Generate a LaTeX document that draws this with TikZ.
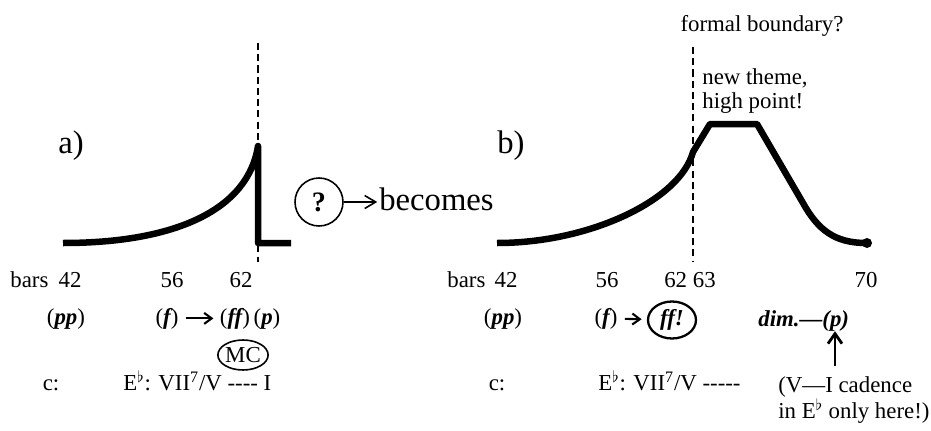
\documentclass[tikz,border=0pt]{standalone}
\usepackage{fontspec}
\setmainfont{Liberation Serif}
\usetikzlibrary{arrows.meta, positioning, shapes.geometric}

\newcommand{\sm}{\fontsize{13}{13.7}\selectfont}
\newcommand{\bg}{\fontsize{18.6}{20}\selectfont}
\newcommand{\dyn}[1]{\textbf{\textit{#1}}}
\newcommand{\eflat}{E\textsuperscript{$\flat$}}

\begin{document}
\begin{tikzpicture}[
    x=0.02cm, y=-0.02cm,
    every node/.style={font=\sm, inner sep=0pt},
    lbl/.style={anchor=base},
    lblw/.style={anchor=base west},
    tag/.style={font=\bg, anchor=base west},
    curve/.style={line width=3.7pt, line join=round},
    bound/.style={line width=1.4pt, dash pattern=on 4pt off 2.4pt},
    ring/.style={draw, ellipse, line width=0.9pt},
    arr/.style={-{Straight Barb[length=2.2mm, width=2.6mm]}, line width=0.9pt},
    dynarr/.style={-{Straight Barb[length=1.5mm, width=2.2mm]}, line width=1.2pt},
    uparr/.style={-{Straight Barb[length=2mm, width=2.8mm]}, line width=1.6pt}
  ]
  \useasboundingbox (0,0) rectangle (931,430);

  % panel a
  \node[tag] (taga) at (58,153) {a)};
  \draw[curve] (63,243) .. controls (175,243) and (248,210) .. (258,146) -- (258,243) -- (291,243);
  \draw[bound] (258,43) -- (258,262);

  \node[lblw] (barsa) at (10,287) {bars};
  \node[lbl] (b42a) at (70,287) {42};
  \node[lbl] (b56a) at (172,287) {56};
  \node[lbl] (b62a) at (241,287) {62};

  \node[lbl] (ppa) at (66,324) {(\dyn{pp})};
  \node[lbl] (fa) at (167,324) {(\dyn{f}\kern-1pt)};
  \node[lbl] (ffa) at (235,324) {(\dyn{ff}\kern-1pt)};
  \node[lbl] (pa) at (267,324) {(\dyn{p})};

  \node[ring, minimum width=0.9cm, minimum height=0.6cm] (mc) at (243,355) {MC};
  \node[lbl] (keya) at (51,390) {c:};
  \node[lblw] (harma) at (123,390) {\eflat: VII\textsuperscript{7}/V -{}-{}-{}- I};

  % transition
  \node[draw, circle, line width=0.9pt, minimum size=0.96cm, font=\fontsize{16}{17}\selectfont\bfseries] (qm) at (319,202) {?};
  \node[tag] (becomes) at (379,210) {becomes};

  % panel b
  \node[tag] (tagb) at (497,153) {b)};
  \draw[curve] (497,243) .. controls (590,243) and (680,200) .. (693,152) -- (710,124) -- (757,124) -- (803,203) .. controls (818,230) and (835,243) .. (866,243);
  \fill (867,243) circle (5);
  \draw[bound] (693,47) -- (693,262);
  \node[lbl] (formal) at (762,31) {formal boundary?};
  \node[anchor=north west, align=left] (theme) at (702,68) {new theme,\\high point!};

  \node[lblw] (barsb) at (447,287) {bars};
  \node[lbl] (b42b) at (506,287) {42};
  \node[lbl] (b56b) at (607,287) {56};
  \node[lbl] (b62b) at (690,287) {62 63};
  \node[lbl] (b70b) at (866,287) {70};

  \node[lbl] (ppb) at (503,324) {(\dyn{pp})};
  \node[lbl] (fb) at (606,324) {(\dyn{f}\kern-1pt)};
  \node[ring, line width=1.3pt, minimum width=0.96cm, minimum height=0.74cm] (ffb) at (672,320) {\dyn{ff!}};
  \node[lblw] (dimb) at (758,326) {\dyn{dim.—(p)}};
  \coordinate (pend) at (835,326);

  \node[lbl] (keyb) at (497,390) {c:};
  \node[lblw] (harmb) at (598,390) {\eflat: VII\textsuperscript{7}/V -{}-{}-{}-{}-};
  \node[lblw] (cad1) at (778,392) {(V—I cadence};
  \node[lblw] (cad2) at (778,418) {in \eflat{} only here!)};

  \draw[dynarr, shorten <=4pt, shorten >=3.5pt] (fa) -- (ffa);
  \draw[dynarr, shorten <=4pt, shorten >=3pt] (fb) -- (ffb);
  \draw[arr, shorten >=1pt] (qm) -- (qm -| becomes.west);
  \draw[uparr] (cad1.north -| pend) ++(0,-10) coordinate (ptail) (ptail) -- (pend |- dimb.south);
\end{tikzpicture}
\end{document}
